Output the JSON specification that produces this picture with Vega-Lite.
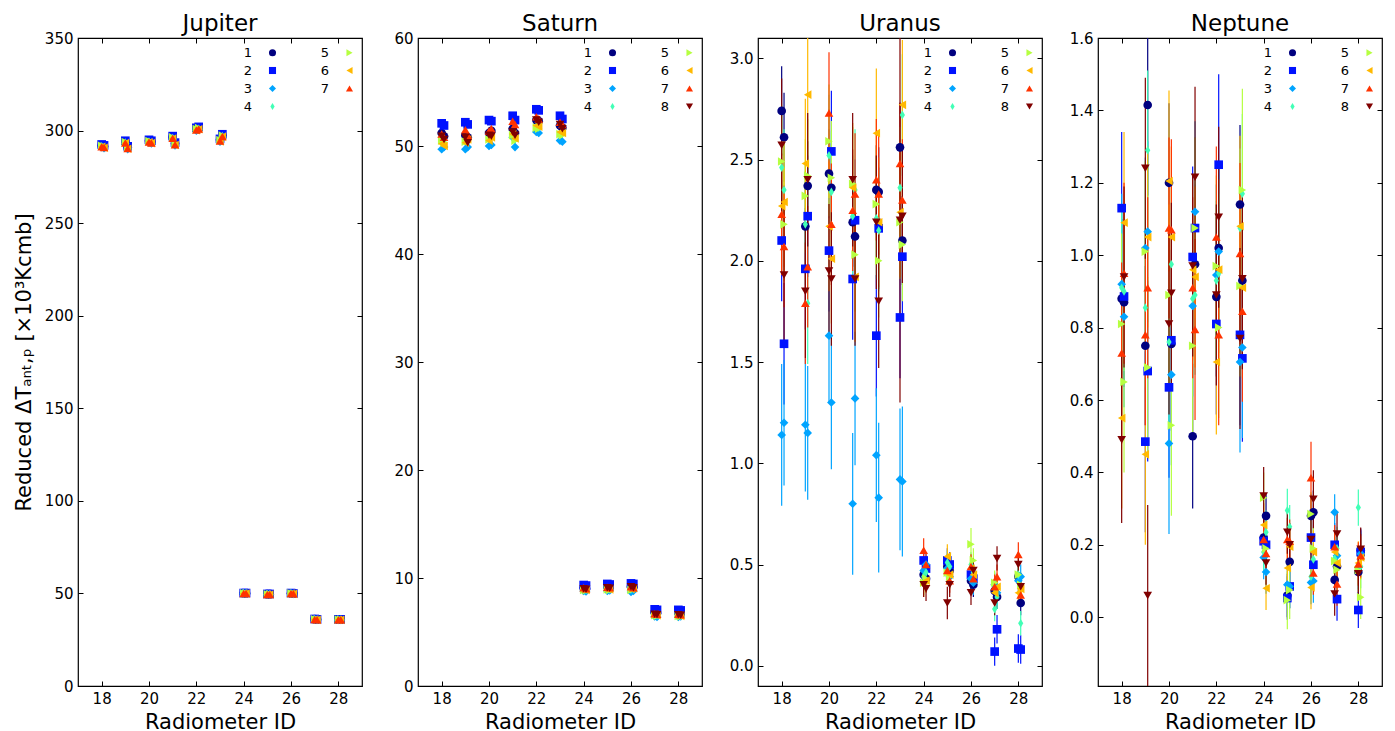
{
"$schema": "https://vega.github.io/schema/vega-lite/v6.json",
"padding": {"left": 12, "top": 11, "right": 5, "bottom": 2},
"bounds": "flush",
"spacing": 56,
"config": {
  "font": "DejaVu Sans",
  "view": {"stroke": "black", "strokeWidth": 1.2},
  "axis": {"domain": false, "grid": false, "tickSize": -5, "tickColor": "black", "tickWidth": 1, "labelPadding": 10, "labelFontSize": 15, "labelColor": "black", "labelFont": "DejaVu Sans", "titleFont": "DejaVu Sans", "titleFontSize": 21, "titleFontWeight": "normal", "titleColor": "black"},
  "title": {"fontSize": 23, "font": "DejaVu Sans", "fontWeight": "normal", "color": "black", "offset": -5},
  "legend": {"orient": "top-right", "columns": 2, "offset": 5, "padding": 3, "labelFontSize": 13, "labelFont": "DejaVu Sans", "labelColor": "black", "symbolSize": 50, "labelAlign": "right", "labelOffset": -27, "columnPadding": 43, "rowPadding": 4, "symbolStrokeWidth": 0}
},
"datasets": {
"J": [
{"s":1,"x":18,"y":292.0,"e":1.5},{"s":1,"x":18.1,"y":291.5,"e":1.5},{"s":1,"x":19,"y":294.0,"e":1.5},{"s":1,"x":19.1,"y":291.0,"e":1.5},{"s":1,"x":20,"y":294.5,"e":1.5},{"s":1,"x":20.1,"y":294.0,"e":1.5},{"s":1,"x":21,"y":296.5,"e":1.5},{"s":1,"x":21.1,"y":293.0,"e":1.5},{"s":1,"x":22,"y":301.0,"e":1.5},{"s":1,"x":22.1,"y":301.5,"e":1.5},{"s":1,"x":23,"y":295.0,"e":1.5},{"s":1,"x":23.1,"y":297.5,"e":1.5},{"s":1,"x":24,"y":50.1,"e":0.6},{"s":1,"x":24.1,"y":50.1,"e":0.6},{"s":1,"x":25,"y":49.6,"e":0.6},{"s":1,"x":25.1,"y":49.6,"e":0.6},{"s":1,"x":26,"y":50.1,"e":0.6},{"s":1,"x":26.1,"y":49.9,"e":0.6},{"s":1,"x":27,"y":36.1,"e":0.6},{"s":1,"x":27.1,"y":35.9,"e":0.6},{"s":1,"x":28,"y":35.9,"e":0.6},{"s":1,"x":28.1,"y":35.9,"e":0.6},
{"s":2,"x":18,"y":292.5,"e":1.5},{"s":2,"x":18.1,"y":292.0,"e":1.5},{"s":2,"x":19,"y":294.5,"e":1.5},{"s":2,"x":19.1,"y":291.5,"e":1.5},{"s":2,"x":20,"y":295.0,"e":1.5},{"s":2,"x":20.1,"y":294.5,"e":1.5},{"s":2,"x":21,"y":297.0,"e":1.5},{"s":2,"x":21.1,"y":293.5,"e":1.5},{"s":2,"x":22,"y":301.5,"e":1.5},{"s":2,"x":22.1,"y":302.0,"e":1.5},{"s":2,"x":23,"y":295.5,"e":1.5},{"s":2,"x":23.1,"y":298.0,"e":1.5},{"s":2,"x":24,"y":50.2,"e":0.6},{"s":2,"x":24.1,"y":50.2,"e":0.6},{"s":2,"x":25,"y":49.7,"e":0.6},{"s":2,"x":25.1,"y":49.7,"e":0.6},{"s":2,"x":26,"y":50.2,"e":0.6},{"s":2,"x":26.1,"y":50.0,"e":0.6},{"s":2,"x":27,"y":36.2,"e":0.6},{"s":2,"x":27.1,"y":36.0,"e":0.6},{"s":2,"x":28,"y":36.0,"e":0.6},{"s":2,"x":28.1,"y":36.0,"e":0.6},
{"s":3,"x":18,"y":291.0,"e":1.5},{"s":3,"x":18.1,"y":290.5,"e":1.5},{"s":3,"x":19,"y":293.0,"e":1.5},{"s":3,"x":19.1,"y":290.0,"e":1.5},{"s":3,"x":20,"y":293.5,"e":1.5},{"s":3,"x":20.1,"y":293.0,"e":1.5},{"s":3,"x":21,"y":295.5,"e":1.5},{"s":3,"x":21.1,"y":292.0,"e":1.5},{"s":3,"x":22,"y":300.0,"e":1.5},{"s":3,"x":22.1,"y":300.5,"e":1.5},{"s":3,"x":23,"y":294.0,"e":1.5},{"s":3,"x":23.1,"y":296.5,"e":1.5},{"s":3,"x":24,"y":49.9,"e":0.6},{"s":3,"x":24.1,"y":49.9,"e":0.6},{"s":3,"x":25,"y":49.4,"e":0.6},{"s":3,"x":25.1,"y":49.4,"e":0.6},{"s":3,"x":26,"y":49.9,"e":0.6},{"s":3,"x":26.1,"y":49.7,"e":0.6},{"s":3,"x":27,"y":35.9,"e":0.6},{"s":3,"x":27.1,"y":35.7,"e":0.6},{"s":3,"x":28,"y":35.7,"e":0.6},{"s":3,"x":28.1,"y":35.7,"e":0.6},
{"s":4,"x":18,"y":291.5,"e":1.5},{"s":4,"x":18.1,"y":291.0,"e":1.5},{"s":4,"x":19,"y":293.5,"e":1.5},{"s":4,"x":19.1,"y":290.5,"e":1.5},{"s":4,"x":20,"y":294.0,"e":1.5},{"s":4,"x":20.1,"y":293.5,"e":1.5},{"s":4,"x":21,"y":296.0,"e":1.5},{"s":4,"x":21.1,"y":292.5,"e":1.5},{"s":4,"x":22,"y":300.5,"e":1.5},{"s":4,"x":22.1,"y":301.0,"e":1.5},{"s":4,"x":23,"y":294.5,"e":1.5},{"s":4,"x":23.1,"y":297.0,"e":1.5},{"s":4,"x":24,"y":50.0,"e":0.6},{"s":4,"x":24.1,"y":50.0,"e":0.6},{"s":4,"x":25,"y":49.5,"e":0.6},{"s":4,"x":25.1,"y":49.5,"e":0.6},{"s":4,"x":26,"y":50.0,"e":0.6},{"s":4,"x":26.1,"y":49.8,"e":0.6},{"s":4,"x":27,"y":36.0,"e":0.6},{"s":4,"x":27.1,"y":35.8,"e":0.6},{"s":4,"x":28,"y":35.8,"e":0.6},{"s":4,"x":28.1,"y":35.8,"e":0.6},
{"s":5,"x":18,"y":291.8,"e":1.5},{"s":5,"x":18.1,"y":291.3,"e":1.5},{"s":5,"x":19,"y":293.8,"e":1.5},{"s":5,"x":19.1,"y":290.8,"e":1.5},{"s":5,"x":20,"y":294.3,"e":1.5},{"s":5,"x":20.1,"y":293.8,"e":1.5},{"s":5,"x":21,"y":296.3,"e":1.5},{"s":5,"x":21.1,"y":292.8,"e":1.5},{"s":5,"x":22,"y":300.8,"e":1.5},{"s":5,"x":22.1,"y":301.3,"e":1.5},{"s":5,"x":23,"y":294.8,"e":1.5},{"s":5,"x":23.1,"y":297.3,"e":1.5},{"s":5,"x":24,"y":50.06,"e":0.6},{"s":5,"x":24.1,"y":50.06,"e":0.6},{"s":5,"x":25,"y":49.56,"e":0.6},{"s":5,"x":25.1,"y":49.56,"e":0.6},{"s":5,"x":26,"y":50.06,"e":0.6},{"s":5,"x":26.1,"y":49.86,"e":0.6},{"s":5,"x":27,"y":36.06,"e":0.6},{"s":5,"x":27.1,"y":35.86,"e":0.6},{"s":5,"x":28,"y":35.86,"e":0.6},{"s":5,"x":28.1,"y":35.86,"e":0.6},
{"s":6,"x":18,"y":291.2,"e":1.5},{"s":6,"x":18.1,"y":290.7,"e":1.5},{"s":6,"x":19,"y":293.2,"e":1.5},{"s":6,"x":19.1,"y":290.2,"e":1.5},{"s":6,"x":20,"y":293.7,"e":1.5},{"s":6,"x":20.1,"y":293.2,"e":1.5},{"s":6,"x":21,"y":295.7,"e":1.5},{"s":6,"x":21.1,"y":292.2,"e":1.5},{"s":6,"x":22,"y":300.2,"e":1.5},{"s":6,"x":22.1,"y":300.7,"e":1.5},{"s":6,"x":23,"y":294.2,"e":1.5},{"s":6,"x":23.1,"y":296.7,"e":1.5},{"s":6,"x":24,"y":49.94,"e":0.6},{"s":6,"x":24.1,"y":49.94,"e":0.6},{"s":6,"x":25,"y":49.44,"e":0.6},{"s":6,"x":25.1,"y":49.44,"e":0.6},{"s":6,"x":26,"y":49.94,"e":0.6},{"s":6,"x":26.1,"y":49.74,"e":0.6},{"s":6,"x":27,"y":35.94,"e":0.6},{"s":6,"x":27.1,"y":35.74,"e":0.6},{"s":6,"x":28,"y":35.74,"e":0.6},{"s":6,"x":28.1,"y":35.74,"e":0.6},
{"s":7,"x":18,"y":291.3,"e":1.5},{"s":7,"x":18.1,"y":290.8,"e":1.5},{"s":7,"x":19,"y":293.3,"e":1.5},{"s":7,"x":19.1,"y":290.3,"e":1.5},{"s":7,"x":20,"y":293.8,"e":1.5},{"s":7,"x":20.1,"y":293.3,"e":1.5},{"s":7,"x":21,"y":295.8,"e":1.5},{"s":7,"x":21.1,"y":292.3,"e":1.5},{"s":7,"x":22,"y":300.3,"e":1.5},{"s":7,"x":22.1,"y":300.8,"e":1.5},{"s":7,"x":23,"y":294.3,"e":1.5},{"s":7,"x":23.1,"y":296.8,"e":1.5},{"s":7,"x":24,"y":49.96,"e":0.6},{"s":7,"x":24.1,"y":49.96,"e":0.6},{"s":7,"x":25,"y":49.46,"e":0.6},{"s":7,"x":25.1,"y":49.46,"e":0.6},{"s":7,"x":26,"y":49.96,"e":0.6},{"s":7,"x":26.1,"y":49.76,"e":0.6},{"s":7,"x":27,"y":35.96,"e":0.6},{"s":7,"x":27.1,"y":35.76,"e":0.6},{"s":7,"x":28,"y":35.76,"e":0.6},{"s":7,"x":28.1,"y":35.76,"e":0.6}
],
"S": [
{"s":1,"x":18,"y":51.2,"e":0.3},{"s":1,"x":18.1,"y":50.9,"e":0.3},{"s":1,"x":19,"y":51.0,"e":0.3},{"s":1,"x":19.1,"y":50.8,"e":0.3},{"s":1,"x":20,"y":51.2,"e":0.3},{"s":1,"x":20.1,"y":51.4,"e":0.3},{"s":1,"x":21,"y":51.6,"e":0.3},{"s":1,"x":21.1,"y":51.2,"e":0.3},{"s":1,"x":22,"y":52.4,"e":0.3},{"s":1,"x":22.1,"y":52.3,"e":0.3},{"s":1,"x":23,"y":51.9,"e":0.3},{"s":1,"x":23.1,"y":51.7,"e":0.3},{"s":1,"x":24,"y":9.1,"e":0.15},{"s":1,"x":24.1,"y":9.0,"e":0.15},{"s":1,"x":25,"y":9.2,"e":0.15},{"s":1,"x":25.1,"y":9.1,"e":0.15},{"s":1,"x":26,"y":9.2,"e":0.15},{"s":1,"x":26.1,"y":9.15,"e":0.15},{"s":1,"x":27,"y":6.8,"e":0.15},{"s":1,"x":27.1,"y":6.75,"e":0.15},{"s":1,"x":28,"y":6.75,"e":0.15},{"s":1,"x":28.1,"y":6.7,"e":0.15},
{"s":2,"x":18,"y":52.1,"e":0.3},{"s":2,"x":18.1,"y":51.9,"e":0.3},{"s":2,"x":19,"y":52.2,"e":0.3},{"s":2,"x":19.1,"y":52.0,"e":0.3},{"s":2,"x":20,"y":52.4,"e":0.3},{"s":2,"x":20.1,"y":52.3,"e":0.3},{"s":2,"x":21,"y":52.8,"e":0.3},{"s":2,"x":21.1,"y":52.4,"e":0.3},{"s":2,"x":22,"y":53.4,"e":0.3},{"s":2,"x":22.1,"y":53.3,"e":0.3},{"s":2,"x":23,"y":52.8,"e":0.3},{"s":2,"x":23.1,"y":52.5,"e":0.3},{"s":2,"x":24,"y":9.35,"e":0.15},{"s":2,"x":24.1,"y":9.3,"e":0.15},{"s":2,"x":25,"y":9.45,"e":0.15},{"s":2,"x":25.1,"y":9.4,"e":0.15},{"s":2,"x":26,"y":9.5,"e":0.15},{"s":2,"x":26.1,"y":9.45,"e":0.15},{"s":2,"x":27,"y":7.1,"e":0.15},{"s":2,"x":27.1,"y":7.05,"e":0.15},{"s":2,"x":28,"y":7.05,"e":0.15},{"s":2,"x":28.1,"y":7.0,"e":0.15},
{"s":3,"x":18,"y":49.7,"e":0.3},{"s":3,"x":18.1,"y":49.9,"e":0.3},{"s":3,"x":19,"y":49.7,"e":0.3},{"s":3,"x":19.1,"y":49.9,"e":0.3},{"s":3,"x":20,"y":50.0,"e":0.3},{"s":3,"x":20.1,"y":50.1,"e":0.3},{"s":3,"x":21,"y":50.8,"e":0.3},{"s":3,"x":21.1,"y":49.9,"e":0.3},{"s":3,"x":22,"y":51.3,"e":0.3},{"s":3,"x":22.1,"y":51.2,"e":0.3},{"s":3,"x":23,"y":50.5,"e":0.3},{"s":3,"x":23.1,"y":50.4,"e":0.3},{"s":3,"x":24,"y":8.8,"e":0.15},{"s":3,"x":24.1,"y":8.75,"e":0.15},{"s":3,"x":25,"y":8.8,"e":0.15},{"s":3,"x":25.1,"y":8.85,"e":0.15},{"s":3,"x":26,"y":8.7,"e":0.15},{"s":3,"x":26.1,"y":8.8,"e":0.15},{"s":3,"x":27,"y":6.45,"e":0.15},{"s":3,"x":27.1,"y":6.4,"e":0.15},{"s":3,"x":28,"y":6.4,"e":0.15},{"s":3,"x":28.1,"y":6.45,"e":0.15},
{"s":4,"x":18,"y":50.6,"e":0.3},{"s":4,"x":18.1,"y":50.4,"e":0.3},{"s":4,"x":19,"y":50.5,"e":0.3},{"s":4,"x":19.1,"y":50.6,"e":0.3},{"s":4,"x":20,"y":50.7,"e":0.3},{"s":4,"x":20.1,"y":50.8,"e":0.3},{"s":4,"x":21,"y":51.2,"e":0.3},{"s":4,"x":21.1,"y":50.6,"e":0.3},{"s":4,"x":22,"y":51.8,"e":0.3},{"s":4,"x":22.1,"y":51.7,"e":0.3},{"s":4,"x":23,"y":51.0,"e":0.3},{"s":4,"x":23.1,"y":51.3,"e":0.3},{"s":4,"x":24,"y":8.95,"e":0.15},{"s":4,"x":24.1,"y":8.9,"e":0.15},{"s":4,"x":25,"y":9.0,"e":0.15},{"s":4,"x":25.1,"y":8.95,"e":0.15},{"s":4,"x":26,"y":8.95,"e":0.15},{"s":4,"x":26.1,"y":9.0,"e":0.15},{"s":4,"x":27,"y":6.6,"e":0.15},{"s":4,"x":27.1,"y":6.55,"e":0.15},{"s":4,"x":28,"y":6.55,"e":0.15},{"s":4,"x":28.1,"y":6.5,"e":0.15},
{"s":5,"x":18,"y":50.5,"e":0.3},{"s":5,"x":18.1,"y":50.3,"e":0.3},{"s":5,"x":19,"y":50.4,"e":0.3},{"s":5,"x":19.1,"y":50.5,"e":0.3},{"s":5,"x":20,"y":50.6,"e":0.3},{"s":5,"x":20.1,"y":50.7,"e":0.3},{"s":5,"x":21,"y":51.0,"e":0.3},{"s":5,"x":21.1,"y":50.5,"e":0.3},{"s":5,"x":22,"y":51.7,"e":0.3},{"s":5,"x":22.1,"y":51.6,"e":0.3},{"s":5,"x":23,"y":51.1,"e":0.3},{"s":5,"x":23.1,"y":51.0,"e":0.3},{"s":5,"x":24,"y":8.9,"e":0.15},{"s":5,"x":24.1,"y":8.85,"e":0.15},{"s":5,"x":25,"y":8.95,"e":0.15},{"s":5,"x":25.1,"y":8.9,"e":0.15},{"s":5,"x":26,"y":8.9,"e":0.15},{"s":5,"x":26.1,"y":9.0,"e":0.15},{"s":5,"x":27,"y":6.55,"e":0.15},{"s":5,"x":27.1,"y":6.5,"e":0.15},{"s":5,"x":28,"y":6.5,"e":0.15},{"s":5,"x":28.1,"y":6.45,"e":0.15},
{"s":6,"x":18,"y":50.2,"e":0.3},{"s":6,"x":18.1,"y":50.0,"e":0.3},{"s":6,"x":19,"y":50.3,"e":0.3},{"s":6,"x":19.1,"y":50.6,"e":0.3},{"s":6,"x":20,"y":50.5,"e":0.3},{"s":6,"x":20.1,"y":50.8,"e":0.3},{"s":6,"x":21,"y":51.1,"e":0.3},{"s":6,"x":21.1,"y":50.7,"e":0.3},{"s":6,"x":22,"y":51.9,"e":0.3},{"s":6,"x":22.1,"y":51.8,"e":0.3},{"s":6,"x":23,"y":51.3,"e":0.3},{"s":6,"x":23.1,"y":51.2,"e":0.3},{"s":6,"x":24,"y":8.95,"e":0.15},{"s":6,"x":24.1,"y":8.9,"e":0.15},{"s":6,"x":25,"y":9.0,"e":0.15},{"s":6,"x":25.1,"y":8.95,"e":0.15},{"s":6,"x":26,"y":9.0,"e":0.15},{"s":6,"x":26.1,"y":9.05,"e":0.15},{"s":6,"x":27,"y":6.6,"e":0.15},{"s":6,"x":27.1,"y":6.55,"e":0.15},{"s":6,"x":28,"y":6.55,"e":0.15},{"s":6,"x":28.1,"y":6.5,"e":0.15},
{"s":7,"x":18,"y":51.1,"e":0.3},{"s":7,"x":18.1,"y":50.8,"e":0.3},{"s":7,"x":19,"y":51.5,"e":0.3},{"s":7,"x":19.1,"y":51.0,"e":0.3},{"s":7,"x":20,"y":51.4,"e":0.3},{"s":7,"x":20.1,"y":51.6,"e":0.3},{"s":7,"x":21,"y":52.3,"e":0.3},{"s":7,"x":21.1,"y":52.0,"e":0.3},{"s":7,"x":22,"y":52.7,"e":0.3},{"s":7,"x":22.1,"y":52.5,"e":0.3},{"s":7,"x":23,"y":52.2,"e":0.3},{"s":7,"x":23.1,"y":52.0,"e":0.3},{"s":7,"x":24,"y":9.1,"e":0.15},{"s":7,"x":24.1,"y":9.0,"e":0.15},{"s":7,"x":25,"y":9.15,"e":0.15},{"s":7,"x":25.1,"y":9.1,"e":0.15},{"s":7,"x":26,"y":9.2,"e":0.15},{"s":7,"x":26.1,"y":9.1,"e":0.15},{"s":7,"x":27,"y":6.7,"e":0.15},{"s":7,"x":27.1,"y":6.65,"e":0.15},{"s":7,"x":28,"y":6.65,"e":0.15},{"s":7,"x":28.1,"y":6.6,"e":0.15},
{"s":8,"x":18,"y":50.9,"e":0.3},{"s":8,"x":18.1,"y":50.6,"e":0.3},{"s":8,"x":19,"y":50.8,"e":0.3},{"s":8,"x":19.1,"y":50.3,"e":0.3},{"s":8,"x":20,"y":51.0,"e":0.3},{"s":8,"x":20.1,"y":50.9,"e":0.3},{"s":8,"x":21,"y":51.3,"e":0.3},{"s":8,"x":21.1,"y":51.0,"e":0.3},{"s":8,"x":22,"y":52.4,"e":0.3},{"s":8,"x":22.1,"y":52.2,"e":0.3},{"s":8,"x":23,"y":52.0,"e":0.3},{"s":8,"x":23.1,"y":51.6,"e":0.3},{"s":8,"x":24,"y":9.0,"e":0.15},{"s":8,"x":24.1,"y":8.95,"e":0.15},{"s":8,"x":25,"y":9.1,"e":0.15},{"s":8,"x":25.1,"y":9.05,"e":0.15},{"s":8,"x":26,"y":9.2,"e":0.15},{"s":8,"x":26.1,"y":9.1,"e":0.15},{"s":8,"x":27,"y":6.65,"e":0.15},{"s":8,"x":27.1,"y":6.6,"e":0.15},{"s":8,"x":28,"y":6.6,"e":0.15},{"s":8,"x":28.1,"y":6.55,"e":0.15}
],
"U": [
{"s":1,"x":18,"y":2.74,"e":0.22},{"s":1,"x":18.1,"y":2.61,"e":0.22},{"s":1,"x":19,"y":2.17,"e":0.22},{"s":1,"x":19.1,"y":2.37,"e":0.22},{"s":1,"x":20,"y":2.43,"e":0.22},{"s":1,"x":20.1,"y":2.36,"e":0.22},{"s":1,"x":21,"y":2.19,"e":0.22},{"s":1,"x":21.1,"y":2.12,"e":0.22},{"s":1,"x":22,"y":2.35,"e":0.22},{"s":1,"x":22.1,"y":2.34,"e":0.22},{"s":1,"x":23,"y":2.56,"e":0.22},{"s":1,"x":23.1,"y":2.10,"e":0.22},{"s":1,"x":24,"y":0.45,"e":0.06},{"s":1,"x":24.1,"y":0.43,"e":0.06},{"s":1,"x":25,"y":0.49,"e":0.06},{"s":1,"x":25.1,"y":0.47,"e":0.06},{"s":1,"x":26,"y":0.42,"e":0.06},{"s":1,"x":26.1,"y":0.40,"e":0.06},{"s":1,"x":27,"y":0.37,"e":0.06},{"s":1,"x":27.1,"y":0.34,"e":0.06},{"s":1,"x":28,"y":0.44,"e":0.06},{"s":1,"x":28.1,"y":0.31,"e":0.06},
{"s":2,"x":18,"y":2.10,"e":0.3},{"s":2,"x":18.1,"y":1.59,"e":0.3},{"s":2,"x":19,"y":1.96,"e":0.3},{"s":2,"x":19.1,"y":2.22,"e":0.3},{"s":2,"x":20,"y":2.05,"e":0.3},{"s":2,"x":20.1,"y":2.54,"e":0.3},{"s":2,"x":21,"y":1.91,"e":0.3},{"s":2,"x":21.1,"y":2.20,"e":0.3},{"s":2,"x":22,"y":1.63,"e":0.3},{"s":2,"x":22.1,"y":2.16,"e":0.3},{"s":2,"x":23,"y":1.72,"e":0.3},{"s":2,"x":23.1,"y":2.02,"e":0.3},{"s":2,"x":24,"y":0.52,"e":0.06},{"s":2,"x":24.1,"y":0.48,"e":0.06},{"s":2,"x":25,"y":0.52,"e":0.06},{"s":2,"x":25.1,"y":0.50,"e":0.06},{"s":2,"x":26,"y":0.45,"e":0.06},{"s":2,"x":26.1,"y":0.43,"e":0.06},{"s":2,"x":27,"y":0.07,"e":0.07},{"s":2,"x":27.1,"y":0.18,"e":0.07},{"s":2,"x":28,"y":0.085,"e":0.07},{"s":2,"x":28.1,"y":0.08,"e":0.07},
{"s":3,"x":18,"y":1.14,"e":0.35},{"s":3,"x":18.1,"y":1.20,"e":0.31},{"s":3,"x":19,"y":1.19,"e":0.33},{"s":3,"x":19.1,"y":1.15,"e":0.33},{"s":3,"x":20,"y":1.63,"e":0.33},{"s":3,"x":20.1,"y":1.30,"e":0.33},{"s":3,"x":21,"y":0.80,"e":0.35},{"s":3,"x":21.1,"y":1.32,"e":0.33},{"s":3,"x":22,"y":1.04,"e":0.33},{"s":3,"x":22.1,"y":0.83,"e":0.37},{"s":3,"x":23,"y":0.92,"e":0.35},{"s":3,"x":23.1,"y":0.91,"e":0.37},{"s":3,"x":24,"y":0.47,"e":0.06},{"s":3,"x":24.1,"y":0.50,"e":0.06},{"s":3,"x":25,"y":0.48,"e":0.06},{"s":3,"x":25.1,"y":0.44,"e":0.06},{"s":3,"x":26,"y":0.43,"e":0.06},{"s":3,"x":26.1,"y":0.41,"e":0.06},{"s":3,"x":27,"y":0.40,"e":0.06},{"s":3,"x":27.1,"y":0.36,"e":0.06},{"s":3,"x":28,"y":0.42,"e":0.06},{"s":3,"x":28.1,"y":0.44,"e":0.06},
{"s":4,"x":18,"y":2.46,"e":0.3},{"s":4,"x":18.1,"y":2.35,"e":0.3},{"s":4,"x":19,"y":2.18,"e":0.3},{"s":4,"x":19.1,"y":1.79,"e":0.3},{"s":4,"x":20,"y":2.52,"e":0.3},{"s":4,"x":20.1,"y":2.34,"e":0.3},{"s":4,"x":21,"y":2.22,"e":0.3},{"s":4,"x":21.1,"y":2.35,"e":0.3},{"s":4,"x":22,"y":2.21,"e":0.3},{"s":4,"x":22.1,"y":2.15,"e":0.3},{"s":4,"x":23,"y":2.36,"e":0.3},{"s":4,"x":23.1,"y":2.72,"e":0.3},{"s":4,"x":24,"y":0.44,"e":0.06},{"s":4,"x":24.1,"y":0.46,"e":0.06},{"s":4,"x":25,"y":0.51,"e":0.06},{"s":4,"x":25.1,"y":0.49,"e":0.06},{"s":4,"x":26,"y":0.50,"e":0.06},{"s":4,"x":26.1,"y":0.46,"e":0.06},{"s":4,"x":27,"y":0.28,"e":0.06},{"s":4,"x":27.1,"y":0.34,"e":0.06},{"s":4,"x":28,"y":0.45,"e":0.06},{"s":4,"x":28.1,"y":0.21,"e":0.06},
{"s":5,"x":18,"y":2.49,"e":0.28},{"s":5,"x":18.1,"y":2.18,"e":0.28},{"s":5,"x":19,"y":2.32,"e":0.28},{"s":5,"x":19.1,"y":2.42,"e":0.28},{"s":5,"x":20,"y":2.59,"e":0.28},{"s":5,"x":20.1,"y":2.41,"e":0.28},{"s":5,"x":21,"y":2.38,"e":0.28},{"s":5,"x":21.1,"y":2.03,"e":0.28},{"s":5,"x":22,"y":2.28,"e":0.28},{"s":5,"x":22.1,"y":2.00,"e":0.28},{"s":5,"x":23,"y":2.19,"e":0.28},{"s":5,"x":23.1,"y":2.08,"e":0.28},{"s":5,"x":24,"y":0.41,"e":0.06},{"s":5,"x":24.1,"y":0.43,"e":0.06},{"s":5,"x":25,"y":0.46,"e":0.06},{"s":5,"x":25.1,"y":0.44,"e":0.06},{"s":5,"x":26,"y":0.60,"e":0.08},{"s":5,"x":26.1,"y":0.52,"e":0.06},{"s":5,"x":27,"y":0.41,"e":0.06},{"s":5,"x":27.1,"y":0.38,"e":0.06},{"s":5,"x":28,"y":0.45,"e":0.06},{"s":5,"x":28.1,"y":0.40,"e":0.06},
{"s":6,"x":18,"y":2.27,"e":0.32},{"s":6,"x":18.1,"y":2.29,"e":0.32},{"s":6,"x":19,"y":2.48,"e":0.32},{"s":6,"x":19.1,"y":2.82,"e":0.32},{"s":6,"x":20,"y":2.17,"e":0.32},{"s":6,"x":20.1,"y":2.01,"e":0.32},{"s":6,"x":21,"y":2.36,"e":0.32},{"s":6,"x":21.1,"y":1.92,"e":0.32},{"s":6,"x":22,"y":2.63,"e":0.32},{"s":6,"x":22.1,"y":2.19,"e":0.32},{"s":6,"x":23,"y":2.24,"e":0.32},{"s":6,"x":23.1,"y":2.77,"e":0.32},{"s":6,"x":24,"y":0.40,"e":0.06},{"s":6,"x":24.1,"y":0.42,"e":0.06},{"s":6,"x":25,"y":0.54,"e":0.06},{"s":6,"x":25.1,"y":0.45,"e":0.06},{"s":6,"x":26,"y":0.48,"e":0.06},{"s":6,"x":26.1,"y":0.45,"e":0.06},{"s":6,"x":27,"y":0.36,"e":0.06},{"s":6,"x":27.1,"y":0.39,"e":0.06},{"s":6,"x":28,"y":0.36,"e":0.06},{"s":6,"x":28.1,"y":0.38,"e":0.06},
{"s":7,"x":18,"y":2.23,"e":0.3},{"s":7,"x":18.1,"y":2.07,"e":0.3},{"s":7,"x":19,"y":1.79,"e":0.3},{"s":7,"x":19.1,"y":1.97,"e":0.3},{"s":7,"x":20,"y":2.73,"e":0.3},{"s":7,"x":20.1,"y":2.18,"e":0.3},{"s":7,"x":21,"y":2.25,"e":0.3},{"s":7,"x":21.1,"y":2.33,"e":0.3},{"s":7,"x":22,"y":2.40,"e":0.3},{"s":7,"x":22.1,"y":2.33,"e":0.3},{"s":7,"x":23,"y":2.48,"e":0.3},{"s":7,"x":23.1,"y":2.30,"e":0.3},{"s":7,"x":24,"y":0.57,"e":0.06},{"s":7,"x":24.1,"y":0.50,"e":0.06},{"s":7,"x":25,"y":0.47,"e":0.06},{"s":7,"x":25.1,"y":0.42,"e":0.06},{"s":7,"x":26,"y":0.49,"e":0.06},{"s":7,"x":26.1,"y":0.43,"e":0.06},{"s":7,"x":27,"y":0.39,"e":0.06},{"s":7,"x":27.1,"y":0.44,"e":0.06},{"s":7,"x":28,"y":0.55,"e":0.06},{"s":7,"x":28.1,"y":0.35,"e":0.06},
{"s":8,"x":18,"y":2.57,"e":0.33},{"s":8,"x":18.1,"y":1.93,"e":0.33},{"s":8,"x":19,"y":1.85,"e":0.33},{"s":8,"x":19.1,"y":2.40,"e":0.33},{"s":8,"x":20,"y":1.95,"e":0.33},{"s":8,"x":20.1,"y":1.91,"e":0.33},{"s":8,"x":21,"y":2.40,"e":0.33},{"s":8,"x":21.1,"y":1.91,"e":0.33},{"s":8,"x":22,"y":2.19,"e":0.33},{"s":8,"x":22.1,"y":1.80,"e":0.33},{"s":8,"x":23,"y":2.20,"e":0.9},{"s":8,"x":23.1,"y":2.22,"e":0.33},{"s":8,"x":24,"y":0.40,"e":0.06},{"s":8,"x":24.1,"y":0.38,"e":0.06},{"s":8,"x":25,"y":0.31,"e":0.08},{"s":8,"x":25.1,"y":0.40,"e":0.06},{"s":8,"x":26,"y":0.36,"e":0.06},{"s":8,"x":26.1,"y":0.47,"e":0.06},{"s":8,"x":27,"y":0.31,"e":0.06},{"s":8,"x":27.1,"y":0.53,"e":0.06},{"s":8,"x":28,"y":0.50,"e":0.06},{"s":8,"x":28.1,"y":0.39,"e":0.06}
],
"N": [
{"s":1,"x":18,"y":0.88,"e":0.22},{"s":1,"x":18.1,"y":0.87,"e":0.22},{"s":1,"x":19,"y":0.75,"e":0.22},{"s":1,"x":19.1,"y":1.415,"e":0.25},{"s":1,"x":20,"y":1.20,"e":0.22},{"s":1,"x":20.1,"y":0.755,"e":0.22},{"s":1,"x":21,"y":0.50,"e":0.2},{"s":1,"x":21.1,"y":0.975,"e":0.22},{"s":1,"x":22,"y":0.885,"e":0.22},{"s":1,"x":22.1,"y":1.02,"e":0.22},{"s":1,"x":23,"y":1.14,"e":0.22},{"s":1,"x":23.1,"y":0.93,"e":0.22},{"s":1,"x":24,"y":0.22,"e":0.06},{"s":1,"x":24.1,"y":0.28,"e":0.06},{"s":1,"x":25,"y":0.06,"e":0.06},{"s":1,"x":25.1,"y":0.153,"e":0.06},{"s":1,"x":26,"y":0.28,"e":0.06},{"s":1,"x":26.1,"y":0.29,"e":0.06},{"s":1,"x":27,"y":0.103,"e":0.06},{"s":1,"x":27.1,"y":0.14,"e":0.06},{"s":1,"x":28,"y":0.125,"e":0.06},{"s":1,"x":28.1,"y":0.185,"e":0.06},
{"s":2,"x":18,"y":1.13,"e":0.21},{"s":2,"x":18.1,"y":0.886,"e":0.25},{"s":2,"x":19,"y":0.485,"e":0.25},{"s":2,"x":19.1,"y":0.68,"e":0.25},{"s":2,"x":20,"y":0.635,"e":0.25},{"s":2,"x":20.1,"y":0.765,"e":0.25},{"s":2,"x":21,"y":0.995,"e":0.25},{"s":2,"x":21.1,"y":1.075,"e":0.25},{"s":2,"x":22,"y":0.81,"e":0.25},{"s":2,"x":22.1,"y":1.25,"e":0.25},{"s":2,"x":23,"y":0.78,"e":0.25},{"s":2,"x":23.1,"y":0.715,"e":0.23},{"s":2,"x":24,"y":0.21,"e":0.06},{"s":2,"x":24.1,"y":0.20,"e":0.06},{"s":2,"x":25,"y":0.053,"e":0.06},{"s":2,"x":25.1,"y":0.085,"e":0.06},{"s":2,"x":26,"y":0.22,"e":0.06},{"s":2,"x":26.1,"y":0.145,"e":0.06},{"s":2,"x":27,"y":0.20,"e":0.06},{"s":2,"x":27.1,"y":0.05,"e":0.06},{"s":2,"x":28,"y":0.02,"e":0.05},{"s":2,"x":28.1,"y":0.18,"e":0.06},
{"s":3,"x":18,"y":0.92,"e":0.25},{"s":3,"x":18.1,"y":0.83,"e":0.25},{"s":3,"x":19,"y":1.02,"e":0.25},{"s":3,"x":19.1,"y":1.065,"e":0.25},{"s":3,"x":20,"y":0.48,"e":0.25},{"s":3,"x":20.1,"y":0.67,"e":0.25},{"s":3,"x":21,"y":0.86,"e":0.25},{"s":3,"x":21.1,"y":1.12,"e":0.25},{"s":3,"x":22,"y":0.945,"e":0.25},{"s":3,"x":22.1,"y":1.01,"e":0.25},{"s":3,"x":23,"y":0.705,"e":0.25},{"s":3,"x":23.1,"y":0.745,"e":0.25},{"s":3,"x":24,"y":0.165,"e":0.06},{"s":3,"x":24.1,"y":0.125,"e":0.06},{"s":3,"x":25,"y":0.09,"e":0.06},{"s":3,"x":25.1,"y":0.085,"e":0.06},{"s":3,"x":26,"y":0.096,"e":0.06},{"s":3,"x":26.1,"y":0.10,"e":0.06},{"s":3,"x":27,"y":0.29,"e":0.05},{"s":3,"x":27.1,"y":0.17,"e":0.06},{"s":3,"x":28,"y":0.137,"e":0.06},{"s":3,"x":28.1,"y":0.175,"e":0.06},
{"s":4,"x":18,"y":0.91,"e":0.22},{"s":4,"x":18.1,"y":0.90,"e":0.22},{"s":4,"x":19,"y":0.855,"e":0.22},{"s":4,"x":19.1,"y":1.29,"e":0.22},{"s":4,"x":20,"y":0.76,"e":0.22},{"s":4,"x":20.1,"y":0.975,"e":0.22},{"s":4,"x":21,"y":0.88,"e":0.22},{"s":4,"x":21.1,"y":0.89,"e":0.22},{"s":4,"x":22,"y":0.93,"e":0.22},{"s":4,"x":22.1,"y":0.95,"e":0.22},{"s":4,"x":23,"y":1.075,"e":0.22},{"s":4,"x":23.1,"y":1.17,"e":0.22},{"s":4,"x":24,"y":0.18,"e":0.06},{"s":4,"x":24.1,"y":0.235,"e":0.06},{"s":4,"x":25,"y":0.295,"e":0.06},{"s":4,"x":25.1,"y":0.25,"e":0.06},{"s":4,"x":26,"y":0.112,"e":0.06},{"s":4,"x":26.1,"y":0.16,"e":0.06},{"s":4,"x":27,"y":0.162,"e":0.06},{"s":4,"x":27.1,"y":0.19,"e":0.06},{"s":4,"x":28,"y":0.303,"e":0.05},{"s":4,"x":28.1,"y":0.14,"e":0.06},
{"s":5,"x":18,"y":0.81,"e":0.25},{"s":5,"x":18.1,"y":0.65,"e":0.25},{"s":5,"x":19,"y":1.01,"e":0.25},{"s":5,"x":19.1,"y":0.69,"e":0.25},{"s":5,"x":20,"y":0.89,"e":0.25},{"s":5,"x":20.1,"y":0.53,"e":0.25},{"s":5,"x":21,"y":0.75,"e":0.25},{"s":5,"x":21.1,"y":1.075,"e":0.25},{"s":5,"x":22,"y":0.97,"e":0.25},{"s":5,"x":22.1,"y":0.80,"e":0.25},{"s":5,"x":23,"y":0.915,"e":0.25},{"s":5,"x":23.1,"y":1.18,"e":0.28},{"s":5,"x":24,"y":0.33,"e":0.07},{"s":5,"x":24.1,"y":0.19,"e":0.06},{"s":5,"x":25,"y":0.047,"e":0.08},{"s":5,"x":25.1,"y":0.075,"e":0.08},{"s":5,"x":26,"y":0.285,"e":0.06},{"s":5,"x":26.1,"y":0.19,"e":0.06},{"s":5,"x":27,"y":0.155,"e":0.06},{"s":5,"x":27.1,"y":0.131,"e":0.06},{"s":5,"x":28,"y":0.13,"e":0.06},{"s":5,"x":28.1,"y":0.055,"e":0.06},
{"s":6,"x":18,"y":0.55,"e":0.25},{"s":6,"x":18.1,"y":1.09,"e":0.25},{"s":6,"x":19,"y":0.45,"e":0.25},{"s":6,"x":19.1,"y":1.05,"e":0.25},{"s":6,"x":20,"y":1.205,"e":0.25},{"s":6,"x":20.1,"y":1.05,"e":0.25},{"s":6,"x":21,"y":0.96,"e":0.25},{"s":6,"x":21.1,"y":0.94,"e":0.25},{"s":6,"x":22,"y":0.705,"e":0.2},{"s":6,"x":22.1,"y":0.96,"e":0.25},{"s":6,"x":23,"y":1.08,"e":0.25},{"s":6,"x":23.1,"y":0.91,"e":0.25},{"s":6,"x":24,"y":0.255,"e":0.06},{"s":6,"x":24.1,"y":0.08,"e":0.06},{"s":6,"x":25,"y":0.136,"e":0.06},{"s":6,"x":25.1,"y":0.195,"e":0.06},{"s":6,"x":26,"y":0.082,"e":0.06},{"s":6,"x":26.1,"y":0.18,"e":0.06},{"s":6,"x":27,"y":0.18,"e":0.06},{"s":6,"x":27.1,"y":0.15,"e":0.06},{"s":6,"x":28,"y":0.15,"e":0.06},{"s":6,"x":28.1,"y":0.165,"e":0.06},
{"s":7,"x":18,"y":0.73,"e":0.25},{"s":7,"x":18.1,"y":0.95,"e":0.25},{"s":7,"x":19,"y":0.78,"e":0.25},{"s":7,"x":19.1,"y":0.91,"e":0.25},{"s":7,"x":20,"y":1.075,"e":0.25},{"s":7,"x":20.1,"y":1.07,"e":0.25},{"s":7,"x":21,"y":0.91,"e":0.25},{"s":7,"x":21.1,"y":0.795,"e":0.25},{"s":7,"x":22,"y":1.05,"e":0.25},{"s":7,"x":22.1,"y":0.78,"e":0.25},{"s":7,"x":23,"y":1.005,"e":0.25},{"s":7,"x":23.1,"y":0.845,"e":0.25},{"s":7,"x":24,"y":0.215,"e":0.06},{"s":7,"x":24.1,"y":0.176,"e":0.06},{"s":7,"x":25,"y":0.215,"e":0.06},{"s":7,"x":25.1,"y":0.21,"e":0.06},{"s":7,"x":26,"y":0.385,"e":0.1},{"s":7,"x":26.1,"y":0.122,"e":0.06},{"s":7,"x":27,"y":0.195,"e":0.06},{"s":7,"x":27.1,"y":0.092,"e":0.06},{"s":7,"x":28,"y":0.147,"e":0.06},{"s":7,"x":28.1,"y":0.17,"e":0.06},
{"s":8,"x":18,"y":0.49,"e":0.23},{"s":8,"x":18.1,"y":0.94,"e":0.25},{"s":8,"x":19,"y":1.24,"e":0.25},{"s":8,"x":19.1,"y":0.06,"e":0.25},{"s":8,"x":20,"y":0.81,"e":0.25},{"s":8,"x":20.1,"y":0.895,"e":0.25},{"s":8,"x":21,"y":0.97,"e":0.25},{"s":8,"x":21.1,"y":1.215,"e":0.25},{"s":8,"x":22,"y":0.89,"e":0.25},{"s":8,"x":22.1,"y":1.105,"e":0.25},{"s":8,"x":23,"y":0.77,"e":0.25},{"s":8,"x":23.1,"y":0.935,"e":0.25},{"s":8,"x":24,"y":0.335,"e":0.08},{"s":8,"x":24.1,"y":0.15,"e":0.06},{"s":8,"x":25,"y":0.235,"e":0.06},{"s":8,"x":25.1,"y":0.20,"e":0.06},{"s":8,"x":26,"y":0.215,"e":0.06},{"s":8,"x":26.1,"y":0.326,"e":0.08},{"s":8,"x":27,"y":0.064,"e":0.06},{"s":8,"x":27.1,"y":0.23,"e":0.06},{"s":8,"x":28,"y":0.12,"e":0.06},{"s":8,"x":28.1,"y":0.188,"e":0.06}
]
},
"hconcat": [
{
 "title": "Jupiter",
 "width": 284, "height": 648,
 "data": {"name": "J"},
 "layer": [
  {"mark": {"type": "errorbar", "thickness": 1.2, "clip": true},
   "encoding": {
    "x": {"field": "x", "type": "quantitative", "scale": {"domain": [17, 29], "nice": false, "zero": false}, "axis": {"values": [18,20,22,24,26,28], "title": "Radiometer ID", "titlePadding": 5}},
    "y": {"field": "y", "type": "quantitative", "scale": {"domain": [0, 350], "nice": false}, "axis": {"values": [0,50,100,150,200,250,300,350], "title": "Reduced ΔTₐₙₜ,ₚ [×10³Kcmb]", "titlePadding": 10}},
    "yError": {"field": "e"},
    "color": {"field": "s", "type": "nominal", "scale": {"domain": [1,2,3,4,5,6,7], "range": ["#000080","#0012ff","#00a4ff","#41ffb6","#b6ff41","#ffb900","#ff3200"]}, "legend": {"title": null}}
   }},
  {"mark": {"type": "point", "filled": true, "size": 75, "opacity": 1},
   "encoding": {
    "x": {"field": "x", "type": "quantitative", "axis": null},
    "y": {"field": "y", "type": "quantitative", "axis": null},
    "color": {"field": "s", "type": "nominal", "scale": {"domain": [1,2,3,4,5,6,7], "range": ["#000080","#0012ff","#00a4ff","#41ffb6","#b6ff41","#ffb900","#ff3200"]}, "legend": {"title": null}},
    "shape": {"field": "s", "type": "nominal", "scale": {"domain": [1,2,3,4,5,6,7], "range": ["circle","square","diamond","M0,-1L0.6,0L0,1L-0.6,0Z","triangle-right","triangle-left","triangle-up"]}, "legend": {"title": null}}
   }},
  {"mark": {"type": "point", "opacity": 0},
   "encoding": {
    "x": {"field": "x", "type": "quantitative", "axis": {"orient": "top", "values": [18,20,22,24,26,28], "labels": false, "title": null}},
    "y": {"field": "y", "type": "quantitative", "axis": {"orient": "right", "values": [0,50,100,150,200,250,300,350], "labels": false, "title": null}}
   }}
 ],
 "resolve": {"axis": {"x": "independent", "y": "independent"}}
},
{
 "title": "Saturn",
 "width": 284, "height": 648,
 "data": {"name": "S"},
 "layer": [
  {"mark": {"type": "errorbar", "thickness": 1.2, "clip": true},
   "encoding": {
    "x": {"field": "x", "type": "quantitative", "scale": {"domain": [17, 29], "nice": false, "zero": false}, "axis": {"values": [18,20,22,24,26,28], "title": "Radiometer ID", "titlePadding": 5}},
    "y": {"field": "y", "type": "quantitative", "scale": {"domain": [0, 60], "nice": false}, "axis": {"values": [0,10,20,30,40,50,60], "title": null}},
    "yError": {"field": "e"},
    "color": {"field": "s", "type": "nominal", "scale": {"domain": [1,2,3,4,5,6,7,8], "range": ["#000080","#0012ff","#00a4ff","#41ffb6","#b6ff41","#ffb900","#ff3200","#800000"]}, "legend": {"title": null}}
   }},
  {"mark": {"type": "point", "filled": true, "size": 75, "opacity": 1},
   "encoding": {
    "x": {"field": "x", "type": "quantitative", "axis": null},
    "y": {"field": "y", "type": "quantitative", "axis": null},
    "color": {"field": "s", "type": "nominal", "scale": {"domain": [1,2,3,4,5,6,7,8], "range": ["#000080","#0012ff","#00a4ff","#41ffb6","#b6ff41","#ffb900","#ff3200","#800000"]}, "legend": {"title": null}},
    "shape": {"field": "s", "type": "nominal", "scale": {"domain": [1,2,3,4,5,6,7,8], "range": ["circle","square","diamond","M0,-1L0.6,0L0,1L-0.6,0Z","triangle-right","triangle-left","triangle-up","triangle-down"]}, "legend": {"title": null}}
   }},
  {"mark": {"type": "point", "opacity": 0},
   "encoding": {
    "x": {"field": "x", "type": "quantitative", "axis": {"orient": "top", "values": [18,20,22,24,26,28], "labels": false, "title": null}},
    "y": {"field": "y", "type": "quantitative", "axis": {"orient": "right", "values": [0,10,20,30,40,50,60], "labels": false, "title": null}}
   }}
 ],
 "resolve": {"axis": {"x": "independent", "y": "independent"}}
},
{
 "title": {"text": "Uranus", "offset": 2},
 "width": 284, "height": 648,
 "data": {"name": "U"},
 "layer": [
  {"mark": {"type": "errorbar", "thickness": 1.2, "clip": true},
   "encoding": {
    "x": {"field": "x", "type": "quantitative", "scale": {"domain": [17, 29], "nice": false, "zero": false}, "axis": {"values": [18,20,22,24,26,28], "title": "Radiometer ID", "titlePadding": 5}},
    "y": {"field": "y", "type": "quantitative", "scale": {"domain": [-0.1, 3.1], "nice": false, "zero": false}, "axis": {"values": [0,0.5,1,1.5,2,2.5,3], "format": ".1f", "title": null}},
    "yError": {"field": "e"},
    "color": {"field": "s", "type": "nominal", "scale": {"domain": [1,2,3,4,5,6,7,8], "range": ["#000080","#0012ff","#00a4ff","#41ffb6","#b6ff41","#ffb900","#ff3200","#800000"]}, "legend": {"title": null}}
   }},
  {"mark": {"type": "point", "filled": true, "size": 75, "opacity": 1},
   "encoding": {
    "x": {"field": "x", "type": "quantitative", "axis": null},
    "y": {"field": "y", "type": "quantitative", "axis": null},
    "color": {"field": "s", "type": "nominal", "scale": {"domain": [1,2,3,4,5,6,7,8], "range": ["#000080","#0012ff","#00a4ff","#41ffb6","#b6ff41","#ffb900","#ff3200","#800000"]}, "legend": {"title": null}},
    "shape": {"field": "s", "type": "nominal", "scale": {"domain": [1,2,3,4,5,6,7,8], "range": ["circle","square","diamond","M0,-1L0.6,0L0,1L-0.6,0Z","triangle-right","triangle-left","triangle-up","triangle-down"]}, "legend": {"title": null}}
   }},
  {"mark": {"type": "point", "opacity": 0},
   "encoding": {
    "x": {"field": "x", "type": "quantitative", "axis": {"orient": "top", "values": [18,20,22,24,26,28], "labels": false, "title": null}},
    "y": {"field": "y", "type": "quantitative", "axis": {"orient": "right", "values": [0,0.5,1,1.5,2,2.5,3], "labels": false, "title": null}}
   }}
 ],
 "resolve": {"axis": {"x": "independent", "y": "independent"}}
},
{
 "title": "Neptune",
 "width": 284, "height": 648,
 "data": {"name": "N"},
 "layer": [
  {"mark": {"type": "errorbar", "thickness": 1.2, "clip": true},
   "encoding": {
    "x": {"field": "x", "type": "quantitative", "scale": {"domain": [17, 29], "nice": false, "zero": false}, "axis": {"values": [18,20,22,24,26,28], "title": "Radiometer ID", "titlePadding": 5}},
    "y": {"field": "y", "type": "quantitative", "scale": {"domain": [-0.19, 1.6], "nice": false, "zero": false}, "axis": {"values": [0,0.2,0.4,0.6,0.8,1,1.2,1.4,1.6], "format": ".1f", "title": null}},
    "yError": {"field": "e"},
    "color": {"field": "s", "type": "nominal", "scale": {"domain": [1,2,3,4,5,6,7,8], "range": ["#000080","#0012ff","#00a4ff","#41ffb6","#b6ff41","#ffb900","#ff3200","#800000"]}, "legend": {"title": null}}
   }},
  {"mark": {"type": "point", "filled": true, "size": 75, "opacity": 1},
   "encoding": {
    "x": {"field": "x", "type": "quantitative", "axis": null},
    "y": {"field": "y", "type": "quantitative", "axis": null},
    "color": {"field": "s", "type": "nominal", "scale": {"domain": [1,2,3,4,5,6,7,8], "range": ["#000080","#0012ff","#00a4ff","#41ffb6","#b6ff41","#ffb900","#ff3200","#800000"]}, "legend": {"title": null}},
    "shape": {"field": "s", "type": "nominal", "scale": {"domain": [1,2,3,4,5,6,7,8], "range": ["circle","square","diamond","M0,-1L0.6,0L0,1L-0.6,0Z","triangle-right","triangle-left","triangle-up","triangle-down"]}, "legend": {"title": null}}
   }},
  {"mark": {"type": "point", "opacity": 0},
   "encoding": {
    "x": {"field": "x", "type": "quantitative", "axis": {"orient": "top", "values": [18,20,22,24,26,28], "labels": false, "title": null}},
    "y": {"field": "y", "type": "quantitative", "axis": {"orient": "right", "values": [0,0.2,0.4,0.6,0.8,1,1.2,1.4,1.6], "labels": false, "title": null}}
   }}
 ],
 "resolve": {"axis": {"x": "independent", "y": "independent"}}
}
],
"resolve": {"scale": {"color": "independent", "shape": "independent", "x": "independent", "y": "independent"}, "legend": {"color": "independent", "shape": "independent"}}
}
